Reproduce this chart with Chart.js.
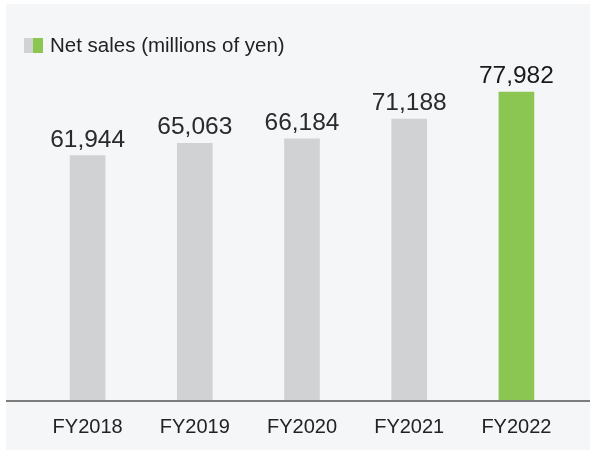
<!DOCTYPE html>
<html>
<head>
<meta charset="utf-8">
<script src="https://cdn.jsdelivr.net/npm/chart.js@4"></script>
<style>
  html, body { margin: 0; padding: 0; background: #fff; }
  #wrap { width: 590px; height: 450px; position: relative; }
</style>
</head>
<body>
<div id="wrap"><canvas id="chart"></canvas></div>
<script>
const categories = ['FY2018', 'FY2019', 'FY2020', 'FY2021', 'FY2022'];
const netSales = [61944, 65063, 66184, 71188, 77982];
const legendLabel = 'Net sales (millions of yen)';

const FONT = '"Liberation Sans", Arial, Helvetica, sans-serif';
const GRAY = '#d1d2d4';
const GREEN = '#8cc652';
const barColors = netSales.map((v, i) => i == netSales.length - 1 ? GREEN : GRAY);

// panel background, axis line, value labels and the legend
const decor = {
  id: 'decor',
  beforeDraw(chart) {
    let ctx = chart.ctx;
    ctx.save();
    ctx.fillStyle = '#f5f6f8';
    ctx.fillRect(6, 4, chart.width - 6, chart.height - 4);
    ctx.restore();
  },
  afterDatasetsDraw(chart) {
    let ctx = chart.ctx;
    let area = chart.chartArea;
    ctx.save();
    ctx.strokeStyle = '#7d7d7d';
    ctx.lineWidth = 2;
    ctx.beginPath();
    ctx.moveTo(6, area.bottom);
    ctx.lineTo(chart.width, area.bottom);
    ctx.stroke();

    ctx.font = '24.5px ' + FONT;
    ctx.textAlign = 'center';
    ctx.textBaseline = 'alphabetic';
    chart.getDatasetMeta(0).data.forEach((bar, i) => {
      ctx.fillStyle = i == netSales.length - 1 ? '#1a1a1a' : '#2a2a2a';
      ctx.fillText(netSales[i].toLocaleString('en-US'), bar.x, bar.y - 9);
    });

    // legend: half gray, half green swatch
    ctx.fillStyle = GRAY;
    ctx.fillRect(24, 38, 9, 15);
    ctx.fillStyle = GREEN;
    ctx.fillRect(33, 38, 10, 15);
    ctx.fillStyle = '#222';
    ctx.font = '20.5px ' + FONT;
    ctx.textAlign = 'left';
    ctx.textBaseline = 'middle';
    ctx.fillText(legendLabel, 50, 46);
    ctx.restore();
  }
};

new Chart(document.getElementById('chart'), {
  type: 'bar',
  data: {
    labels: categories,
    datasets: [{
      label: legendLabel,
      data: netSales,
      backgroundColor: barColors,
      barThickness: 35
    }]
  },
  options: {
    responsive: true,
    maintainAspectRatio: false,
    animation: false,
    layout: { padding: { left: 34, right: 20, top: 5, bottom: 0 } },
    plugins: { legend: { display: false }, tooltip: { enabled: false } },
    scales: {
      x: {
        grid: { display: false },
        border: { display: false },
        ticks: { color: '#222', font: { family: FONT, size: 20 }, padding: 6 },
        afterFit(scale) { scale.height = 49; }
      },
      y: {
        display: false,
        min: 0,
        max: 100000
      }
    }
  },
  plugins: [decor]
});
</script>
</body>
</html>
